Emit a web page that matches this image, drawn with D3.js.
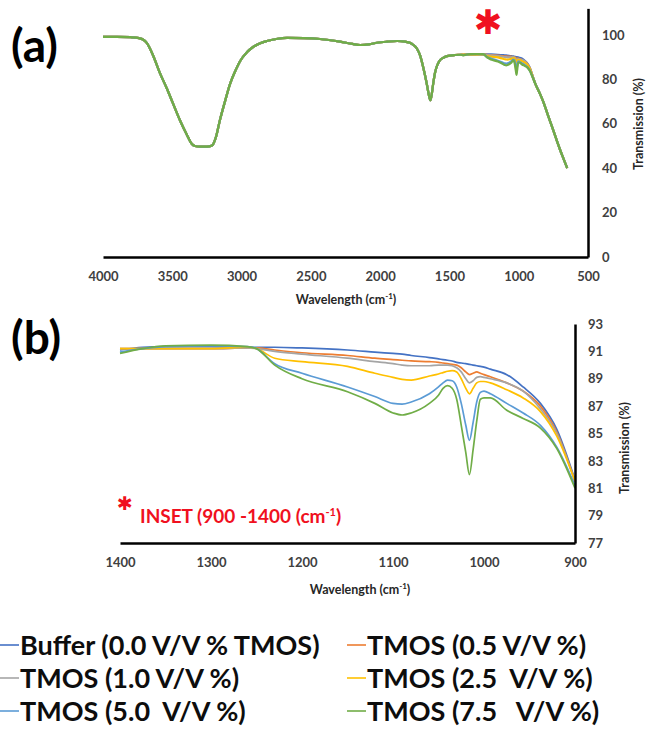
<!DOCTYPE html>
<html>
<head>
<meta charset="utf-8">
<script src="https://cdn.jsdelivr.net/npm/d3@7"></script>
<style>
  body { margin: 0; background: #fff; }
  svg { display: block; }
  text { font-family: Lato, "Open Sans", sans-serif; font-weight: bold; }
</style>
</head>
<body>
<div id="chart"></div>
<script>
// series names + colours (Excel default palette)
const seriesNames = [
  "Buffer (0.0 V/V % TMOS)", "TMOS (0.5 V/V %)", "TMOS (1.0 V/V %)",
  "TMOS (2.5  V/V %)", "TMOS (5.0  V/V %)", "TMOS (7.5   V/V %)"
];
const seriesColors = ["#4472c4", "#ed7d31", "#a5a5a5", "#ffc000", "#5b9bd5", "#70ad47"];

// shared part of the spectrum, 4000 -> 1420 cm-1 (all series overlap here)
const headWn = [4000, 3900, 3800, 3740, 3700, 3683, 3640, 3589, 3540, 3495,
  3444, 3394, 3360, 3336, 3300, 3250, 3213, 3185, 3156, 3120,
  3083, 3040, 3011, 2960, 2917, 2870, 2817, 2750, 2672, 2550,
  2434, 2290, 2200, 2145, 2080, 2023, 1950, 1878, 1820, 1785,
  1760, 1734, 1710, 1690, 1665, 1645, 1638, 1630, 1615, 1604,
  1585, 1568, 1540, 1518, 1460, 1420];
const headT = [99.2, 99.2, 99.0, 98.6, 97.5, 96.3, 91.0, 82.8, 76.0, 69.2,
  61.5, 55.0, 51.0, 50.0, 49.7, 49.7, 50.2, 54.0, 61.7, 70.0,
  78.0, 84.5, 88.2, 92.3, 94.6, 96.2, 97.3, 98.2, 98.7, 98.6,
  98.2, 97.0, 96.0, 95.5, 95.8, 96.5, 97.0, 97.3, 97.0, 96.5,
  95.5, 93.8, 90.5, 85.7, 78.5, 72.0, 70.6, 72.5, 79.0, 83.0,
  86.8, 88.7, 89.9, 90.5, 91.0, 91.1];

// shared tail, 880 -> 650 cm-1
const tailWn = [880, 850, 823, 790, 751, 720, 701, 675, 650];
const tailT = [78.0, 74.0, 70.0, 64.0, 57.2, 51.5, 48.2, 44.0, 40.0];

// inset region 1400 -> 900 cm-1, one array per sample
const insetWn = [1400, 1375, 1350, 1300, 1260, 1250, 1230, 1200, 1150, 1120,
  1100, 1090, 1080, 1060, 1050, 1045, 1040, 1035, 1030, 1025,
  1020, 1016, 1012, 1008, 1004, 1000, 993, 975, 957, 938, 920, 900];
const buffer = [91.1, 91.3, 91.35, 91.35, 91.3, 91.3, 91.3, 91.25, 91.1, 90.95,
  90.85, 90.8, 90.7, 90.55, 90.45, 90.4, 90.35, 90.3, 90.2, 90.15,
  90.1, 90.05, 90.0, 89.95, 89.9, 89.85, 89.7, 89.3, 88.4, 87.2, 85.3, 81.6];
const tmos05 = [91.2, 91.2, 91.2, 91.2, 91.25, 91.25, 91.1, 90.9, 90.7, 90.5,
  90.4, 90.35, 90.3, 90.25, 90.2, 90.15, 90.1, 90.05, 90.0, 89.8,
  89.5, 89.3, 89.4, 89.5, 89.4, 89.3, 89.15, 88.7, 88.1, 87.0, 85.1, 81.5];
const tmos10 = [91.2, 91.2, 91.2, 91.2, 91.25, 91.2, 91.0, 90.8, 90.5, 90.25,
  90.1, 90.0, 89.95, 89.95, 90.0, 90.0, 90.0, 89.95, 89.8, 89.5,
  89.0, 88.7, 88.85, 89.1, 89.15, 89.1, 89.0, 88.7, 88.1, 86.8, 85.0, 81.5];
const tmos25 = [91.2, 91.2, 91.2, 91.2, 91.3, 91.2, 90.5, 90.25, 89.9, 89.4,
  89.1, 88.95, 88.9, 89.2, 89.35, 89.45, 89.55, 89.6, 89.5, 89.0,
  88.3, 87.9, 88.3, 88.7, 88.8, 88.8, 88.7, 88.2, 87.6, 86.6, 84.8, 81.5];
const tmos50 = [90.95, 91.2, 91.35, 91.4, 91.35, 91.2, 90.1, 89.4, 88.4, 87.7,
  87.2, 87.15, 87.3, 87.9, 88.4, 88.7, 88.9, 88.85, 88.4, 87.2,
  85.6, 84.5, 85.8, 87.3, 88.0, 88.1, 87.9, 87.2, 86.5, 85.6, 84.0, 81.2];
const tmos75 = [90.85, 91.2, 91.4, 91.45, 91.35, 91.2, 90.0, 89.0, 88.05, 87.2,
  86.5, 86.35, 86.5, 87.2, 87.8, 88.3, 88.5, 88.3, 87.5, 85.6,
  83.6, 82.0, 83.8, 85.9, 87.5, 87.6, 87.6, 86.7, 86.1, 85.4, 83.9, 81.0];
const insetSeries = [buffer, tmos05, tmos10, tmos25, tmos50, tmos75];

// tick labels
const xTicksA = [4000, 3500, 3000, 2500, 2000, 1500, 1000, 500];
const yTicksA = [0, 20, 40, 60, 80, 100];
const xTicksB = [1400, 1300, 1200, 1100, 1000, 900];
const yTicksB = [77, 79, 81, 83, 85, 87, 89, 91, 93];

const W = 647, H = 736;
const svg = d3.select("#chart").append("svg")
  .attr("width", W)
  .attr("height", H);

const fmt = d3.format("d");

function pairs(wn, t) {
  return wn.map(function(w, i) { return { wn: w, t: t[i] }; });
}

// ---------- panel (a): full spectrum ----------
const xA = d3.scaleLinear().domain([4000, 500]).range([103, 588]);
const yA = d3.scaleLinear().domain([0, 112]).range([257, 257 - 112 * 2.22]);

const lineA = d3.line()
  .x(function(d) { return xA(d.wn); })
  .y(function(d) { return yA(d.t); })
  .curve(d3.curveMonotoneX);

insetSeries.forEach(function(s, i) {
  const data = pairs(headWn, headT)
    .concat(pairs(insetWn, s))
    .concat(pairs(tailWn, tailT));
  svg.append("path")
    .datum(data)
    .attr("fill", "none")
    .attr("stroke", seriesColors[i])
    .attr("stroke-width", 2.2)
    .attr("stroke-linejoin", "round")
    .attr("d", lineA);
});

svg.append("g")
  .attr("class", "axis")
  .attr("transform", "translate(0," + yA(0) + ")")
  .call(d3.axisBottom(xA).tickValues(xTicksA).tickFormat(fmt).tickSize(0).tickPadding(15));

svg.append("g")
  .attr("class", "axis")
  .attr("transform", "translate(" + xA(500) + ",0)")
  .call(d3.axisRight(yA).tickValues(yTicksA).tickFormat(fmt).tickSize(0).tickPadding(14));

// ---------- panel (b): inset 1400 - 900 ----------
const xB = d3.scaleLinear().domain([1400, 900]).range([120, 575]);
const yB = d3.scaleLinear().domain([77, 93]).range([543, 324]);

const lineB = d3.line()
  .x(function(d) { return xB(d.wn); })
  .y(function(d) { return yB(d.t); })
  .curve(d3.curveMonotoneX);

insetSeries.forEach(function(s, i) {
  svg.append("path")
    .datum(pairs(insetWn, s))
    .attr("fill", "none")
    .attr("stroke", seriesColors[i])
    .attr("stroke-width", 1.7)
    .attr("stroke-linejoin", "round")
    .attr("d", lineB);
});

svg.append("g")
  .attr("class", "axis")
  .attr("transform", "translate(0," + yB(77) + ")")
  .call(d3.axisBottom(xB).tickValues(xTicksB).tickFormat(fmt).tickSize(0).tickPadding(15));

svg.append("g")
  .attr("class", "axis")
  .attr("transform", "translate(" + xB(900) + ",0)")
  .call(d3.axisRight(yB).tickValues(yTicksB).tickFormat(fmt).tickSize(0).tickPadding(13));

// axis styling
svg.selectAll(".axis .domain")
  .attr("stroke", "#000")
  .attr("stroke-width", 2.5);
svg.selectAll(".axis text")
  .attr("fill", "#404040")
  .style("font-family", "Lato, 'Open Sans', sans-serif")
  .style("font-weight", "bold")
  .style("font-size", "13px");

// axis titles
function wavelengthTitle(x, y) {
  const t = svg.append("text")
    .attr("x", x)
    .attr("y", y)
    .attr("text-anchor", "middle")
    .attr("fill", "#262626")
    .style("font-size", "12.5px");
  t.append("tspan").text("Wavelength (cm");
  t.append("tspan").attr("dy", -5).style("font-size", "8px").text("-1");
  t.append("tspan").attr("dy", 5).text(")");
}
wavelengthTitle(346, 304);
wavelengthTitle(360, 594);

function transTitle(x, y) {
  svg.append("text")
    .attr("transform", "translate(" + x + "," + y + ") rotate(-90)")
    .attr("text-anchor", "middle")
    .attr("fill", "#262626")
    .style("font-size", "12.5px")
    .text("Transmission (%)");
}
transTitle(643, 124);
transTitle(629, 448);

// panel labels
svg.append("text").attr("x", 11).attr("y", 62)
  .style("font-size", "46px").attr("fill", "#000").text("(a)");
svg.append("text").attr("x", 11).attr("y", 354)
  .style("font-size", "46px").attr("fill", "#000").text("(b)");

// red markers (heavy asterisk glyph)
svg.append("text").attr("x", 488).attr("y", 34)
  .attr("text-anchor", "middle")
  .attr("fill", "#f01020")
  .style("font-family", "'DejaVu Sans', sans-serif")
  .style("font-size", "34px")
  .text("\u2731");

svg.append("text").attr("x", 125).attr("y", 510)
  .attr("text-anchor", "middle")
  .attr("fill", "#f01020")
  .style("font-family", "'DejaVu Sans', sans-serif")
  .style("font-size", "19px")
  .text("\u2731");

const inset = svg.append("text").attr("x", 140).attr("y", 523)
  .attr("fill", "#f01020")
  .style("font-size", "19px");
inset.append("tspan").text("INSET (900 -1400 (cm");
inset.append("tspan").attr("dy", -7).style("font-size", "11px").text("-1");
inset.append("tspan").attr("dy", 7).text(")");

// ---------- legend ----------
const legend = svg.append("g").attr("class", "legend");
seriesNames.forEach(function(name, i) {
  const col = i % 2, row = Math.floor(i / 2);
  const lx = col === 0 ? 0 : 347;
  const by = 655 + row * 33;
  legend.append("line")
    .attr("x1", lx).attr("x2", lx + 19)
    .attr("y1", by - 10).attr("y2", by - 10)
    .attr("stroke", seriesColors[i])
    .attr("stroke-width", 1.6);
  legend.append("text")
    .attr("x", lx + 20)
    .attr("y", by)
    .attr("fill", "#0d0d0d")
    .style("font-size", "27px")
    .style("white-space", "pre")
    .text(name);
});
</script>
</body>
</html>
